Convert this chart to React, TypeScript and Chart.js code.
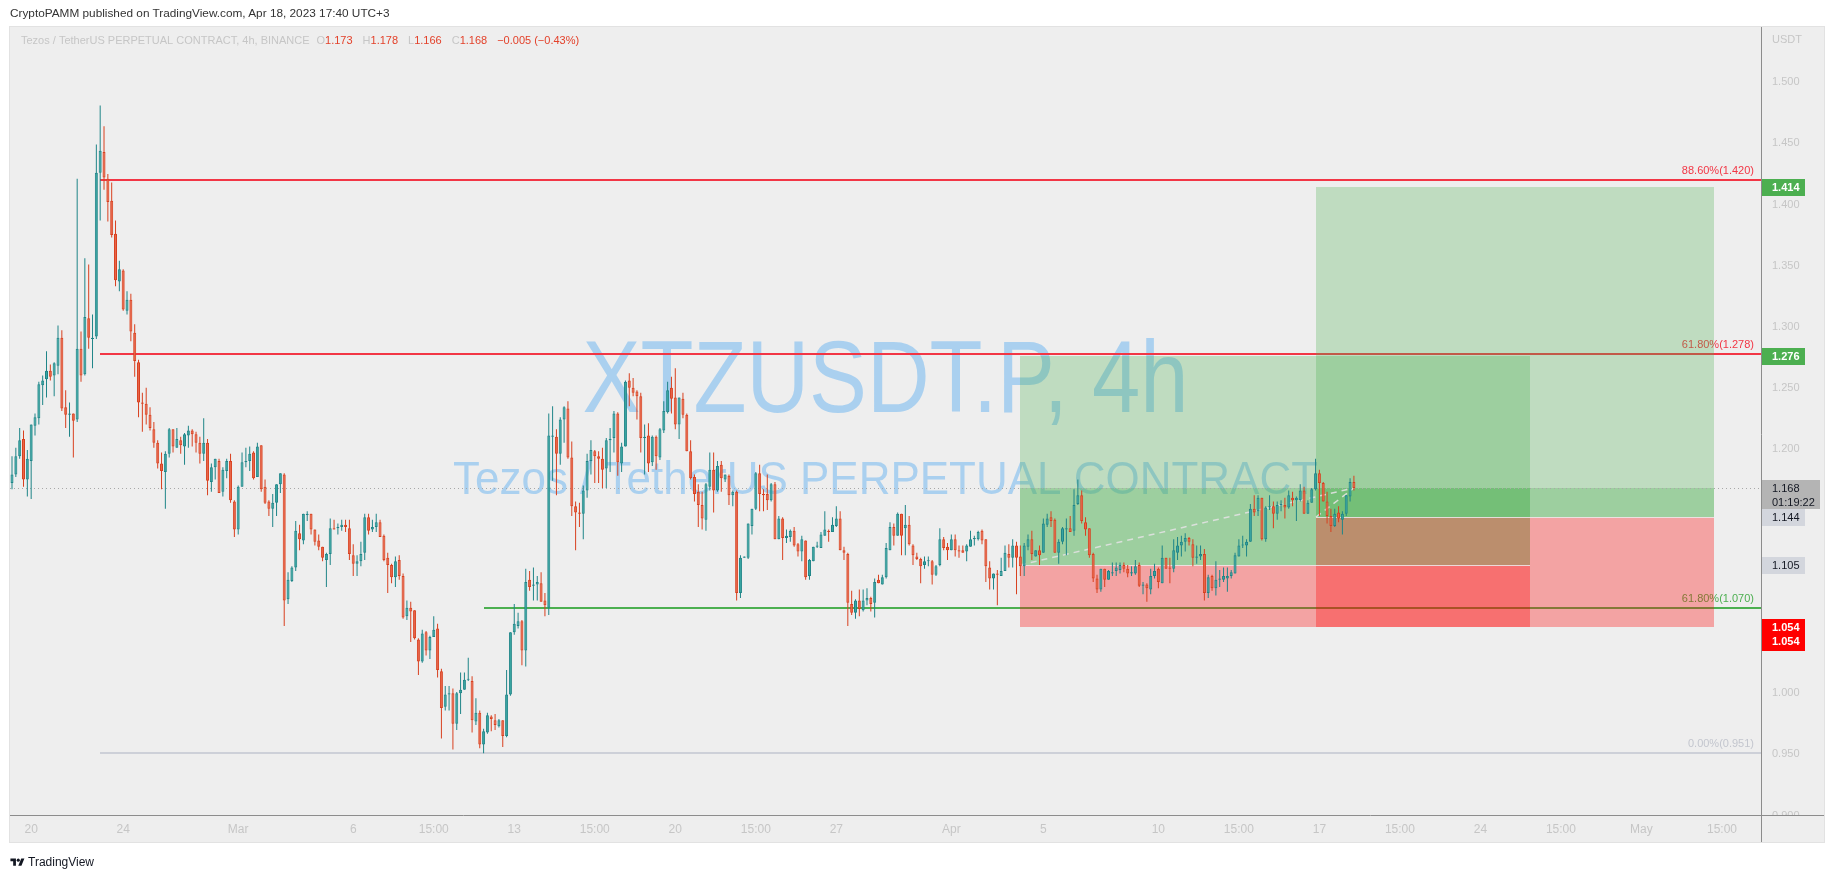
import React, { useEffect, useRef } from "react";
import { Chart, registerables } from "chart.js";
Chart.register(...registerables);

// ---------- data (4h candles, index 1..351) ----------
const OPEN = [
1.172,1.179,1.194,1.208,1.175,1.190,1.219,1.225,1.252,1.257,
1.264,1.260,1.268,1.291,1.234,1.228,1.229,1.224,1.282,1.261,
1.307,1.290,1.292,1.426,1.443,1.421,1.403,1.376,1.337,1.346,
1.313,1.322,1.295,1.271,1.238,1.237,1.228,1.216,1.205,1.188,
1.181,1.196,1.216,1.201,1.207,1.202,1.211,1.215,1.212,1.205,
1.196,1.205,1.173,1.185,1.190,1.165,1.182,1.190,1.157,1.134,
1.169,1.189,1.190,1.197,1.177,1.203,1.169,1.157,1.151,1.156,
1.171,1.179,1.077,1.092,1.103,1.131,1.125,1.146,1.147,1.134,
1.125,1.120,1.109,1.114,1.135,1.135,1.136,1.138,1.135,1.113,
1.106,1.108,1.115,1.144,1.134,1.136,1.140,1.129,1.111,1.105,
1.095,1.109,1.096,1.063,1.070,1.068,1.044,1.026,1.050,1.035,
1.046,1.053,1.018,0.989,0.999,1.000,0.975,1.000,1.003,1.011,
1.010,0.977,0.984,0.958,0.968,0.981,0.978,0.973,0.978,0.965,
0.999,1.050,1.055,1.059,1.035,1.093,1.088,1.089,1.090,1.076,
1.070,1.210,1.210,1.196,1.224,1.233,1.193,1.153,1.148,1.147,
1.166,1.190,1.198,1.194,1.192,1.184,1.207,1.209,1.229,1.188,
1.202,1.256,1.250,1.247,1.243,1.209,1.211,1.189,1.210,1.193,
1.215,1.230,1.250,1.242,1.220,1.241,1.228,1.198,1.177,1.165,
1.154,1.142,1.169,1.183,1.166,1.187,1.175,1.178,1.162,1.165,
1.082,1.111,1.111,1.137,1.151,1.180,1.163,1.163,1.158,1.171,
1.126,1.143,1.127,1.128,1.133,1.122,1.116,1.125,1.096,1.108,
1.120,1.119,1.129,1.133,1.132,1.137,1.143,1.117,1.114,1.073,
1.066,1.076,1.068,1.076,1.078,1.074,1.093,1.089,1.095,1.117,
1.136,1.129,1.147,1.135,1.138,1.121,1.112,1.110,1.105,1.108,
1.108,1.097,1.105,1.126,1.120,1.117,1.126,1.117,1.117,1.116,
1.120,1.126,1.126,1.133,1.126,1.103,1.094,1.098,1.096,1.100,
1.114,1.111,1.121,1.112,1.104,1.120,1.126,1.112,1.117,1.115,
1.138,1.144,1.142,1.115,1.124,1.134,1.135,1.133,1.155,1.162,
1.140,1.135,1.114,1.094,1.085,1.102,1.093,1.098,1.100,1.101,
1.105,1.102,1.098,1.098,1.105,1.088,1.089,1.085,1.096,1.102,
1.090,1.111,1.103,1.102,1.115,1.121,1.124,1.127,1.122,1.111,
1.112,1.114,1.082,1.096,1.086,1.093,1.093,1.094,1.096,1.098,
1.112,1.121,1.121,1.124,1.151,1.149,1.160,1.126,1.152,1.153,
1.147,1.154,1.154,1.152,1.160,1.158,1.158,1.166,1.147,1.156,
1.167,1.180,1.172,1.157,1.145,1.137,1.148,1.142,1.147,1.161,
1.173];

const HIGH = [
1.194,1.201,1.217,1.215,1.199,1.220,1.229,1.255,1.260,1.280,
1.269,1.271,1.301,1.297,1.248,1.238,1.229,1.421,1.296,1.356,
1.351,1.310,1.449,1.481,1.464,1.425,1.418,1.387,1.354,1.347,
1.329,1.327,1.302,1.273,1.246,1.250,1.234,1.222,1.207,1.197,
1.198,1.217,1.216,1.217,1.210,1.213,1.219,1.216,1.214,1.210,
1.225,1.208,1.188,1.192,1.192,1.185,1.192,1.196,1.158,1.170,
1.197,1.201,1.202,1.198,1.205,1.203,1.175,1.158,1.163,1.171,
1.180,1.180,1.099,1.104,1.141,1.138,1.147,1.149,1.147,1.134,
1.130,1.120,1.115,1.143,1.142,1.139,1.142,1.142,1.142,1.122,
1.113,1.124,1.147,1.147,1.142,1.147,1.142,1.130,1.115,1.106,
1.112,1.113,1.098,1.076,1.075,1.068,1.045,1.052,1.051,1.047,
1.063,1.057,1.020,1.006,1.006,1.004,1.001,1.017,1.017,1.029,
1.014,0.996,0.986,0.971,0.984,0.982,0.983,0.979,0.978,1.019,
1.050,1.073,1.066,1.060,1.102,1.100,1.103,1.096,1.099,1.082,
1.229,1.235,1.216,1.226,1.235,1.239,1.206,1.157,1.156,1.170,
1.196,1.207,1.199,1.198,1.201,1.209,1.217,1.231,1.230,1.205,
1.256,1.262,1.258,1.248,1.246,1.220,1.221,1.211,1.211,1.217,
1.239,1.255,1.259,1.266,1.242,1.246,1.229,1.207,1.179,1.171,
1.165,1.172,1.197,1.197,1.190,1.190,1.179,1.179,1.166,1.166,
1.113,1.112,1.139,1.151,1.181,1.187,1.167,1.179,1.172,1.173,
1.145,1.144,1.134,1.134,1.136,1.123,1.129,1.125,1.110,1.120,
1.124,1.132,1.149,1.134,1.144,1.153,1.149,1.120,1.115,1.084,
1.077,1.085,1.085,1.086,1.079,1.094,1.097,1.097,1.123,1.140,
1.139,1.148,1.147,1.154,1.145,1.122,1.115,1.111,1.112,1.112,
1.109,1.105,1.135,1.128,1.123,1.130,1.130,1.121,1.121,1.122,
1.133,1.129,1.133,1.134,1.126,1.108,1.098,1.101,1.111,1.121,
1.122,1.126,1.124,1.121,1.123,1.130,1.133,1.117,1.121,1.143,
1.147,1.149,1.143,1.126,1.136,1.143,1.145,1.167,1.175,1.166,
1.144,1.135,1.115,1.097,1.102,1.102,1.101,1.107,1.107,1.107,
1.107,1.105,1.104,1.109,1.107,1.091,1.090,1.102,1.106,1.103,
1.121,1.111,1.111,1.126,1.128,1.129,1.131,1.128,1.126,1.121,
1.121,1.118,1.097,1.097,1.108,1.101,1.103,1.103,1.101,1.115,
1.126,1.129,1.126,1.155,1.162,1.162,1.160,1.153,1.162,1.157,
1.157,1.158,1.160,1.166,1.165,1.161,1.171,1.169,1.158,1.168,
1.192,1.183,1.173,1.165,1.151,1.151,1.153,1.149,1.162,1.176,
1.178];

const LOW = [
1.167,1.177,1.192,1.169,1.161,1.159,1.211,1.220,1.236,1.242,
1.256,1.243,1.261,1.231,1.217,1.210,1.193,1.222,1.255,1.260,
1.282,1.266,1.290,1.387,1.412,1.386,1.373,1.333,1.329,1.313,
1.310,1.288,1.259,1.226,1.214,1.220,1.215,1.201,1.184,1.167,
1.151,1.193,1.197,1.201,1.196,1.187,1.201,1.202,1.197,1.188,
1.190,1.162,1.165,1.175,1.164,1.161,1.176,1.156,1.128,1.130,
1.169,1.185,1.182,1.175,1.177,1.165,1.155,1.145,1.136,1.145,
1.164,1.055,1.073,1.091,1.100,1.117,1.122,1.141,1.130,1.121,
1.117,1.108,1.087,1.105,1.134,1.130,1.133,1.132,1.109,1.096,
1.096,1.104,1.109,1.130,1.132,1.132,1.128,1.108,1.082,1.090,
1.087,1.093,1.061,1.060,1.042,1.044,1.015,1.025,1.031,1.028,
1.046,1.013,0.963,0.986,0.986,0.954,0.970,0.983,1.003,1.010,
0.968,0.974,0.955,0.951,0.967,0.969,0.970,0.972,0.956,0.964,
0.998,1.048,1.053,1.023,1.022,1.084,1.076,1.076,1.075,1.063,
1.064,1.174,1.162,1.187,1.205,1.192,1.145,1.117,1.136,1.126,
1.160,1.179,1.172,1.172,1.168,1.168,1.181,1.197,1.178,1.181,
1.202,1.235,1.243,1.224,1.197,1.179,1.181,1.186,1.183,1.191,
1.213,1.229,1.229,1.216,1.208,1.225,1.198,1.175,1.157,1.136,
1.134,1.133,1.166,1.148,1.165,1.165,1.173,1.154,1.153,1.076,
1.078,1.111,1.110,1.130,1.150,1.149,1.149,1.150,1.157,1.126,
1.126,1.109,1.123,1.124,1.120,1.112,1.108,1.093,1.093,1.108,
1.119,1.119,1.129,1.124,1.132,1.136,1.117,1.109,1.055,1.064,
1.061,1.063,1.067,1.072,1.067,1.062,1.090,1.089,1.094,1.117,
1.121,1.129,1.113,1.113,1.121,1.105,1.109,1.090,1.102,1.104,
1.089,1.096,1.104,1.117,1.109,1.117,1.112,1.111,1.115,1.108,
1.120,1.121,1.125,1.122,1.091,1.085,1.085,1.072,1.096,1.100,
1.103,1.103,1.081,1.096,1.096,1.117,1.109,1.112,1.105,1.115,
1.136,1.136,1.115,1.106,1.122,1.113,1.132,1.129,1.154,1.139,
1.129,1.111,1.091,1.082,1.083,1.087,1.093,1.096,1.096,1.098,
1.099,1.095,1.096,1.097,1.087,1.081,1.075,1.081,1.094,1.086,
1.090,1.102,1.090,1.099,1.109,1.112,1.116,1.121,1.104,1.106,
1.109,1.076,1.078,1.084,1.080,1.087,1.091,1.083,1.094,1.098,
1.112,1.119,1.112,1.124,1.145,1.145,1.125,1.124,1.150,1.135,
1.142,1.149,1.143,1.151,1.153,1.141,1.157,1.147,1.147,1.156,
1.166,1.145,1.157,1.139,1.132,1.136,1.140,1.130,1.145,1.157,
1.166];

const CLOSE = [
1.179,1.194,1.207,1.175,1.192,1.220,1.226,1.253,1.256,1.264,
1.259,1.270,1.291,1.233,1.228,1.229,1.223,1.282,1.260,1.308,
1.291,1.291,1.426,1.444,1.422,1.402,1.375,1.338,1.347,1.314,
1.322,1.296,1.272,1.238,1.237,1.228,1.217,1.205,1.188,1.182,
1.196,1.216,1.202,1.208,1.203,1.212,1.215,1.212,1.205,1.196,
1.205,1.174,1.185,1.192,1.164,1.183,1.190,1.158,1.134,1.169,
1.189,1.190,1.196,1.176,1.202,1.167,1.156,1.151,1.156,1.171,
1.180,1.076,1.093,1.103,1.133,1.126,1.147,1.147,1.134,1.124,
1.120,1.111,1.114,1.135,1.134,1.136,1.138,1.136,1.114,1.106,
1.108,1.114,1.144,1.133,1.136,1.140,1.128,1.109,1.105,1.095,
1.108,1.096,1.062,1.070,1.067,1.045,1.026,1.049,1.035,1.046,
1.052,1.019,0.988,0.999,1.000,0.975,1.000,1.003,1.011,1.011,
0.978,0.984,0.958,0.969,0.982,0.979,0.974,0.978,0.965,0.999,
1.050,1.057,1.059,1.035,1.091,1.087,1.089,1.091,1.075,1.072,
1.211,1.211,1.196,1.224,1.234,1.193,1.153,1.148,1.147,1.166,
1.190,1.199,1.194,1.192,1.183,1.207,1.208,1.229,1.189,1.202,
1.255,1.250,1.246,1.243,1.209,1.210,1.188,1.210,1.194,1.216,
1.231,1.248,1.241,1.220,1.242,1.228,1.198,1.176,1.163,1.154,
1.143,1.171,1.183,1.166,1.186,1.176,1.179,1.162,1.165,1.082,
1.111,1.112,1.139,1.151,1.180,1.163,1.162,1.158,1.171,1.126,
1.143,1.127,1.129,1.133,1.121,1.116,1.126,1.095,1.109,1.120,
1.121,1.130,1.134,1.132,1.138,1.143,1.117,1.115,1.074,1.066,
1.076,1.069,1.076,1.078,1.073,1.091,1.090,1.095,1.119,1.136,
1.129,1.147,1.129,1.138,1.122,1.113,1.110,1.104,1.108,1.108,
1.097,1.104,1.126,1.119,1.117,1.126,1.117,1.116,1.115,1.121,
1.126,1.127,1.132,1.125,1.104,1.094,1.098,1.097,1.100,1.115,
1.111,1.121,1.111,1.104,1.121,1.126,1.114,1.117,1.113,1.139,
1.143,1.141,1.115,1.124,1.135,1.135,1.132,1.154,1.162,1.141,
1.134,1.113,1.094,1.085,1.102,1.093,1.100,1.099,1.103,1.105,
1.102,1.098,1.099,1.104,1.088,1.089,1.086,1.096,1.100,1.091,
1.111,1.102,1.102,1.117,1.121,1.124,1.127,1.124,1.111,1.112,
1.114,1.082,1.095,1.086,1.093,1.094,1.096,1.096,1.099,1.113,
1.121,1.121,1.124,1.151,1.148,1.160,1.126,1.152,1.153,1.147,
1.154,1.154,1.152,1.162,1.158,1.160,1.166,1.147,1.156,1.167,
1.180,1.172,1.157,1.145,1.137,1.147,1.143,1.147,1.162,1.173,
1.168];

// time axis ticks (bar index) and labels
const TIME_TICK_POS = [6, 30, 60, 90, 111, 132, 153, 174, 195, 216, 246, 270, 300, 321, 342, 363, 384, 405, 426, 447];
const TIME_TICK_LABELS = ["20", "24", "Mar", "6", "15:00", "13", "15:00", "20", "15:00", "27", "Apr", "5", "10", "15:00", "17", "15:00", "24", "15:00", "May", "15:00"];
const PRICE_TICKS = [0.9, 0.95, 1.0, 1.05, 1.1, 1.15, 1.2, 1.25, 1.3, 1.35, 1.4, 1.45, 1.5];

// fibonacci levels
const FIB_PRICES = [1.42, 1.278, 1.07, 0.951];
const FIB_PCTS = ["88.60%", "61.80%", "61.80%", "0.00%"];
const FIB_START = [24, 24, 124, 24];

// long position tools (bar index anchors, prices)
const POS_START = [264, 341];
const POS_END = [397, 445];
const POS_ENTRY = [1.105, 1.144];
const POS_TARGET = [1.276, 1.414];
const POS_STOP = [1.054, 1.054];
const LAST_PRICE = 1.168;
const TIMER = "01:19:22";

const HEADER = "CryptoPAMM published on TradingView.com, Apr 18, 2023 17:40 UTC+3";
const LEGEND_TITLE = "Tezos / TetherUS PERPETUAL CONTRACT, 4h, BINANCE";
const WATERMARK_1 = "XTZUSDT.P, 4h";
const WATERMARK_2 = "Tezos / TetherUS PERPETUAL CONTRACT";

// ---------- styles ----------
const FONT = "'Liberation Sans', Arial, sans-serif";
const UP_FILL = "#3aa6a2";
const UP_LINE = "#1f8588";
const DN_FILL = "#e9664a";
const DN_LINE = "#d8401f";
const AXIS_TEXT = "#c6c6c6";
const RED = "#f23645";
const GREEN = "#4caf50";
const PANEL = "#eeeeee";

function fitText(ctx: CanvasRenderingContext2D, text: string, cx: number, baseline: number, size: number, width: number) {
  ctx.font = `${size}px ${FONT}`;
  const w = ctx.measureText(text).width;
  ctx.save();
  ctx.translate(cx, baseline);
  ctx.scale(width / w, 1);
  ctx.textAlign = "center";
  ctx.textBaseline = "alphabetic";
  ctx.fillText(text, 0, 0);
  ctx.restore();
}

const backgroundPlugin = {
  id: "tvBackground",
  beforeDraw(chart: any) {
    const { ctx, chartArea: a, scales } = chart;
    ctx.save();
    ctx.fillStyle = "#ffffff";
    ctx.fillRect(0, 0, chart.width, chart.height);
    ctx.fillStyle = PANEL;
    ctx.fillRect(a.left, a.top, scales.y.right - a.left, scales.x.bottom - a.top);
    ctx.strokeStyle = "#e2e2e2";
    ctx.lineWidth = 1;
    ctx.strokeRect(a.left - 0.5, a.top - 0.5, scales.y.right - a.left + 1, scales.x.bottom - a.top + 1);
    ctx.restore();
  },
};

const drawingsPlugin = {
  id: "tvDrawings",
  beforeDatasetsDraw(chart: any) {
    const { ctx, chartArea: a, scales } = chart;
    const x = scales.x, y = scales.y;
    const X = (v: number) => Math.round(x.getPixelForValue(v));
    const Y = (v: number) => Math.round(y.getPixelForValue(v));
    ctx.save();
    ctx.beginPath();
    ctx.rect(a.left, a.top, a.right - a.left, a.bottom - a.top);
    ctx.clip();

    // watermark
    const cx = (a.left + a.right) / 2, cy = (a.top + a.bottom) / 2;
    ctx.fillStyle = "rgba(33,150,243,0.33)";
    fitText(ctx, WATERMARK_1, cx, cy - 9, 102, 606);
    fitText(ctx, WATERMARK_2, cx, cy + 73, 47, 865);

    // fib levels
    const fibLine = [RED, RED, GREEN, "#cdd0d8"];
    const fibText = [RED, RED, GREEN, "#c3c6ce"];
    FIB_PRICES.forEach((p, i) => {
      const yy = Y(p);
      ctx.strokeStyle = fibLine[i];
      ctx.lineWidth = 2;
      ctx.beginPath();
      ctx.moveTo(X(FIB_START[i]), yy);
      ctx.lineTo(a.right, yy);
      ctx.stroke();
      ctx.font = `11px ${FONT}`;
      ctx.textAlign = "right";
      ctx.textBaseline = "alphabetic";
      ctx.fillStyle = fibText[i];
      ctx.fillText(`${FIB_PCTS[i]}(${p.toFixed(3)})`, a.right - 7, yy - 6);
    });

    // position boxes
    const G = "rgba(76,175,80,0.29)";
    const R = "rgba(255,0,0,0.315)";
    const box = (s: number, e: number, p0: number, p1: number, c: string) => {
      const x0 = X(s), x1 = X(e), y0 = Y(p0), y1 = Y(p1);
      ctx.fillStyle = c;
      ctx.fillRect(x0, Math.min(y0, y1), x1 - x0, Math.abs(y1 - y0));
    };
    POS_START.forEach((s, i) => {
      box(s, POS_END[i], POS_ENTRY[i], POS_TARGET[i], G);
      box(s, POS_END[i], POS_ENTRY[i], LAST_PRICE, G);
    });
    POS_START.forEach((s, i) => {
      box(s, POS_END[i], POS_STOP[i], POS_ENTRY[i], R);
    });
    // entry lines + dashed progress lines
    POS_START.forEach((s, i) => {
      const ye = Y(POS_ENTRY[i]) + 0.5;
      ctx.strokeStyle = "rgba(235,235,235,0.85)";
      ctx.lineWidth = 1;
      ctx.setLineDash([]);
      ctx.beginPath();
      ctx.moveTo(X(s), ye);
      ctx.lineTo(X(POS_END[i]), ye);
      ctx.stroke();
      ctx.strokeStyle = "rgba(225,225,225,0.9)";
      ctx.lineWidth = 1.5;
      ctx.setLineDash([6, 5]);
      ctx.beginPath();
      ctx.moveTo(X(s), Y(POS_ENTRY[i]));
      ctx.lineTo(x.getPixelForValue(CLOSE.length), y.getPixelForValue(LAST_PRICE));
      ctx.stroke();
    });

    // last price dotted line
    ctx.setLineDash([1, 3]);
    ctx.strokeStyle = "#a8a8a8";
    ctx.lineWidth = 1;
    const yl = Y(LAST_PRICE) + 0.5;
    ctx.beginPath();
    ctx.moveTo(a.left, yl);
    ctx.lineTo(a.right, yl);
    ctx.stroke();
    ctx.restore();
  },
};

const overlayPlugin = {
  id: "tvOverlay",
  afterDraw(chart: any) {
    const { ctx, chartArea: a, scales } = chart;
    const y = scales.y, x = scales.x;
    const Y = (v: number) => Math.round(y.getPixelForValue(v));
    ctx.save();
    // hide price labels that spill below the time axis line
    ctx.fillStyle = PANEL;
    ctx.fillRect(a.right + 1, a.bottom + 1, y.right - a.right - 1, x.bottom - a.bottom - 1);

    // axis border lines
    ctx.strokeStyle = "#8c8c8c";
    ctx.lineWidth = 1;
    ctx.beginPath();
    ctx.moveTo(a.right + 0.5, a.top);
    ctx.lineTo(a.right + 0.5, x.bottom);
    ctx.moveTo(a.left, a.bottom + 0.5);
    ctx.lineTo(y.right, a.bottom + 0.5);
    ctx.stroke();

    // currency label
    ctx.font = `11px ${FONT}`;
    ctx.fillStyle = AXIS_TEXT;
    ctx.textAlign = "left";
    ctx.textBaseline = "middle";
    ctx.fillText("USDT", a.right + 11, a.top + 13);

    // price badges
    const badge = (price: number, lines: string[], bg: string, fg: string, bold: boolean, w: number, h: number) => {
      const yc = Y(price);
      const top = yc - 8;
      ctx.fillStyle = bg;
      ctx.fillRect(a.right + 1, top, w, h);
      ctx.fillStyle = fg;
      ctx.font = `${bold ? "bold " : ""}11px ${FONT}`;
      ctx.textAlign = "left";
      ctx.textBaseline = "middle";
      lines.forEach((t, i) => ctx.fillText(t, a.right + 11, top + 8.5 + i * 14.5));
    };
    POS_TARGET.forEach((p) => badge(p, [p.toFixed(3)], GREEN, "#ffffff", true, 43, 17));
    POS_ENTRY.forEach((p) => badge(p, [p.toFixed(3)], "#d3d6dd", "#131722", false, 43, 17));
    badge(POS_STOP[0], POS_STOP.map((p) => p.toFixed(3)), "#ff0000", "#ffffff", true, 43, 32);
    badge(LAST_PRICE, [LAST_PRICE.toFixed(3), TIMER], "#b4b4b4", "#131722", false, 58, 29);

    // legend
    const n = CLOSE.length;
    const o = OPEN[n - 1], h = HIGH[n - 1], l = LOW[n - 1], c = CLOSE[n - 1];
    const ch = c - CLOSE[n - 2];
    const pct = (ch / CLOSE[n - 2]) * 100;
    const valColor = c >= o ? UP_LINE : "#e3412a";
    ctx.textAlign = "left";
    ctx.textBaseline = "middle";
    ctx.font = `11px ${FONT}`;
    const ly = a.top + 14;
    let lx = a.left + 11;
    ctx.fillStyle = AXIS_TEXT;
    ctx.fillText(LEGEND_TITLE, lx, ly);
    lx += ctx.measureText(LEGEND_TITLE).width + 7;
    const pairs: [string, number][] = [["O", o], ["H", h], ["L", l], ["C", c]];
    pairs.forEach(([k, v]) => {
      ctx.fillStyle = AXIS_TEXT;
      ctx.fillText(k, lx, ly);
      lx += ctx.measureText(k).width;
      ctx.fillStyle = valColor;
      const s = v.toFixed(3);
      ctx.fillText(s, lx, ly);
      lx += ctx.measureText(s).width + 10;
    });
    const sign = ch < 0 ? "\u2212" : "+";
    ctx.fillStyle = valColor;
    ctx.fillText(`${sign}${Math.abs(ch).toFixed(3)} (${sign}${Math.abs(pct).toFixed(2)}%)`, lx, ly);
    ctx.restore();
  },
};

export default function App() {
  const ref = useRef<HTMLCanvasElement | null>(null);
  useEffect(() => {
    if (!ref.current) return;
    const idx = OPEN.map((_, i) => i + 1);
    const up = idx.map((_, i) => CLOSE[i] >= OPEN[i]);
    const bodies = idx.map((v, i) => ({ x: v, y: [Math.min(OPEN[i], CLOSE[i]), Math.max(OPEN[i], CLOSE[i])] }));
    const wicks = idx.map((v, i) => ({ x: v, y: [LOW[i], HIGH[i]] }));
    const chart = new Chart(ref.current, {
      type: "bar",
      data: {
        datasets: [
          {
            label: "body",
            data: bodies as any,
            backgroundColor: up.map((u) => (u ? UP_FILL : DN_FILL)),
            borderColor: up.map((u) => (u ? UP_LINE : DN_LINE)),
            borderWidth: 1,
            borderSkipped: false,
            barThickness: 3,
            minBarLength: 1,
            grouped: false,
            inflateAmount: 0,
            order: 0,
          } as any,
          {
            label: "wick",
            data: wicks as any,
            backgroundColor: up.map((u) => (u ? UP_LINE : DN_LINE)),
            borderWidth: 0,
            borderSkipped: false,
            barThickness: 1,
            grouped: false,
            inflateAmount: 0,
            order: 1,
          } as any,
        ],
      },
      options: {
        responsive: false,
        animation: false,
        devicePixelRatio: 1,
        layout: { padding: { left: 10, right: 10, top: 27, bottom: 38 } },
        plugins: { legend: { display: false }, tooltip: { enabled: false } },
        scales: {
          x: {
            type: "linear",
            min: 0.478,
            max: 457.18,
            offset: false,
            grid: { display: false, drawTicks: false },
            border: { display: false },
            afterBuildTicks: (s: any) => {
              s.ticks = TIME_TICK_POS.map((v) => ({ value: v }));
            },
            afterFit: (s: any) => {
              s.height = 27;
            },
            ticks: {
              autoSkip: false,
              maxRotation: 0,
              padding: 7,
              color: AXIS_TEXT,
              font: { size: 12, family: FONT },
              callback: (_v: any, i: number) => TIME_TICK_LABELS[i],
            },
          },
          y: {
            type: "linear",
            position: "right",
            min: 0.90041,
            max: 1.54525,
            beginAtZero: false,
            grid: { display: false, drawTicks: false },
            border: { display: false },
            afterBuildTicks: (s: any) => {
              s.ticks = PRICE_TICKS.map((v) => ({ value: v }));
            },
            afterFit: (s: any) => {
              s.width = 63;
            },
            ticks: {
              padding: 11,
              color: AXIS_TEXT,
              font: { size: 11, family: FONT },
              callback: (v: any) => Number(v).toFixed(3),
            },
          },
        },
      } as any,
      plugins: [backgroundPlugin, drawingsPlugin, overlayPlugin],
    });
    return () => chart.destroy();
  }, []);

  return (
    <div style={{ position: "absolute", left: 0, top: 0, width: 1834, height: 880, background: "#ffffff", overflow: "hidden" }}>
      <canvas ref={ref} width={1834} height={880} style={{ position: "absolute", left: 0, top: 0, width: 1834, height: 880 }} />
      <div style={{ position: "absolute", left: 10, top: 6, font: `11.8px ${FONT}`, color: "#333333", whiteSpace: "nowrap" }}>{HEADER}</div>
      <div style={{ position: "absolute", left: 10, top: 855, display: "flex", alignItems: "center", font: `12px ${FONT}`, color: "#131722" }}>
        <svg width="15" height="11" viewBox="0 0 36 28" style={{ marginRight: 3 }}>
          <path d="M14 22H7V11H0V4h14v18zM28 22h-8l7.5-18h8L28 22z" fill="#131722" />
          <circle cx="20" cy="8" r="4" fill="#131722" />
        </svg>
        <span>TradingView</span>
      </div>
    </div>
  );
}
